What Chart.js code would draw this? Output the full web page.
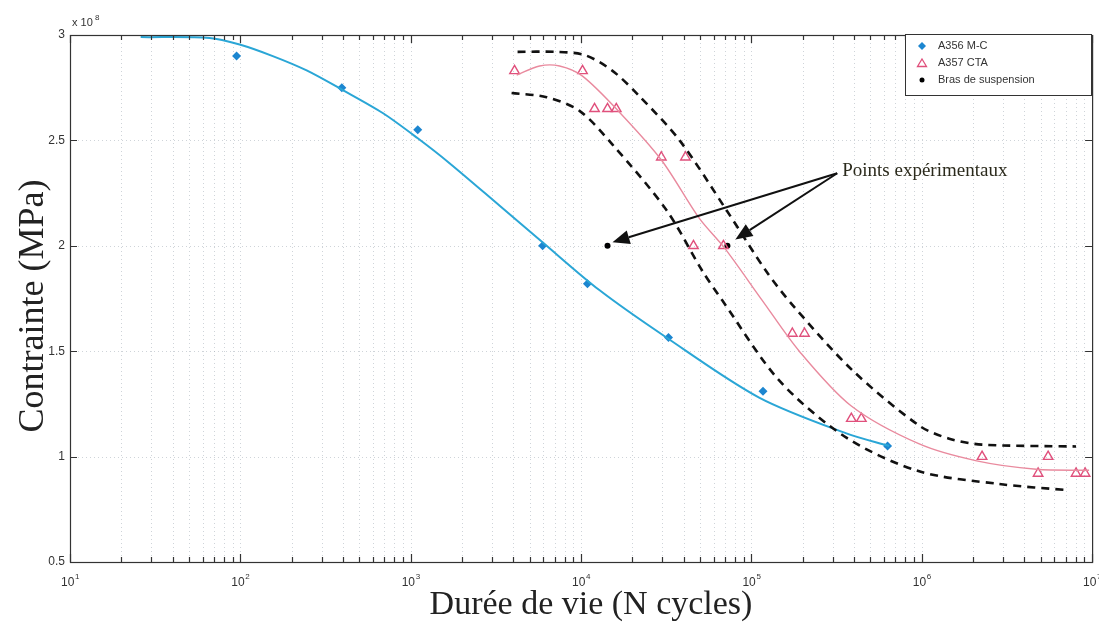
<!DOCTYPE html>
<html>
<head>
<meta charset="utf-8">
<script src="https://cdn.jsdelivr.net/npm/chart.js@4.4.0/dist/chart.umd.min.js"></script>
<style>
body { margin: 0; background: #fff; }
#wrap { width: 1099px; height: 622px; }
</style>
</head>
<body>
<div id="wrap"><canvas id="chart" width="1099" height="622"></canvas></div>
<script>
// data (stress in units of 1e8 MPa, as on the axis) \/
const a356X = [95, 394, 1100, 5950, 10900, 32600, 117000, 630000];
const a356Y = [2.90, 2.75, 2.55, 2.00, 1.82, 1.565, 1.31, 1.05];
const a356FitX = [26, 66, 99, 155, 245, 399, 685, 1100, 1690, 3330, 5940, 12800, 31700, 111000, 361000, 644000];
const a356FitY = [2.99, 2.986, 2.955, 2.9, 2.832, 2.739, 2.63, 2.51, 2.392, 2.19, 2.017, 1.79, 1.565, 1.28, 1.11, 1.05];

const a357X = [4070, 10200, 12000, 14300, 16100, 29600, 41000, 45700, 68500, 174000, 205000, 386000, 442000, 2260000, 4820000, 5520000, 8050000, 9100000];
const a357Y = [2.83, 2.83, 2.65, 2.65, 2.65, 2.42, 2.42, 2.0, 2.0, 1.584, 1.584, 1.18, 1.18, 1.0, 0.92, 1.0, 0.92, 0.92];
const a357FitX = [4190, 5710, 7480, 10200, 16800, 29700, 49500, 69500, 116000, 191000, 386000, 967000, 2100000, 4700000, 9600000];
const a357FitY = [2.81, 2.853, 2.853, 2.805, 2.634, 2.406, 2.13, 1.99, 1.74, 1.50, 1.24, 1.06, 0.98, 0.94, 0.935];

const upperX = [4240, 7000, 10500, 15300, 22000, 37900, 71300, 122000, 174000, 391000, 966000, 1450000, 2260000, 8050000];
const upperY = [2.92, 2.92, 2.905, 2.83, 2.71, 2.50, 2.17, 1.88, 1.72, 1.41, 1.147, 1.085, 1.057, 1.048];
const lowerX = [3910, 6280, 9800, 15300, 31700, 51600, 67600, 146000, 361000, 966000, 2850000, 7330000];
const lowerY = [2.725, 2.705, 2.64, 2.48, 2.17, 1.88, 1.74, 1.36, 1.09, 0.93, 0.87, 0.84];

const brasX = [14300, 72300];
const brasY = [2.0, 2.0];

const xDecades = [1e1, 1e2, 1e3, 1e4, 1e5, 1e6, 1e7];
const xExponents = ['1', '2', '3', '4', '5', '6', '7'];
const yTicks = [0.5, 1, 1.5, 2, 2.5, 3];
const yTickLabels = ['0.5', '1', '1.5', '2', '2.5', '3'];

const legendLabels = ['A356 M-C', 'A357 CTA', 'Bras de suspension'];
const noteText = 'Points expérimentaux';
const noteFrom = [319000, 2.344];
const noteToX = [15300, 80500];
const noteToY = [2.017, 2.03];
// data /\

function pairs(xs, ys) {
    return xs.map((v, i) => ({x: v, y: ys[i]}));
}

// all grid positions: 1..9 x each decade
let xGrid = [];
xDecades.forEach((d, i) => {
    if (i === xDecades.length - 1) { xGrid.push(d); return; }
    for (let k = 1; k < 10; k++) xGrid.push(d * k);
});

const blue = '#1c86d0';
const blueLine = '#2aa6d6';
const pink = '#e0507c';
const pinkLine = '#e98a9e';

// grid, frame, labels, legend and note \/
const extras = {
    id: 'extras',
    beforeDatasetsDraw(chart) {
        const {ctx, chartArea: a, scales: {x, y}} = chart;
        ctx.save();
        ctx.strokeStyle = 'rgba(160,170,180,0.5)';
        ctx.lineWidth = 1;
        ctx.setLineDash([1, 3]);
        xGrid.forEach(v => {
            const px = Math.round(x.getPixelForValue(v)) + 0.5;
            ctx.beginPath(); ctx.moveTo(px, a.top); ctx.lineTo(px, a.bottom); ctx.stroke();
        });
        yTicks.forEach(v => {
            const py = Math.round(y.getPixelForValue(v)) + 0.5;
            ctx.beginPath(); ctx.moveTo(a.left, py); ctx.lineTo(a.right, py); ctx.stroke();
        });
        ctx.restore();
    },
    afterDraw(chart) {
        const {ctx, chartArea: a, scales: {x, y}} = chart;
        ctx.save();
        ctx.setLineDash([]);
        ctx.strokeStyle = '#333';
        ctx.lineWidth = 1.2;
        ctx.strokeRect(a.left + 0.5, a.top + 0.5, a.right - a.left, a.bottom - a.top);

        // tick marks inside the box
        ctx.beginPath();
        xGrid.forEach(v => {
            const px = Math.round(x.getPixelForValue(v)) + 0.5;
            const len = xDecades.includes(v) ? 8 : 5;
            ctx.moveTo(px, a.bottom); ctx.lineTo(px, a.bottom - len);
            ctx.moveTo(px, a.top); ctx.lineTo(px, a.top + len);
        });
        yTicks.forEach(v => {
            const py = Math.round(y.getPixelForValue(v)) + 0.5;
            ctx.moveTo(a.left, py); ctx.lineTo(a.left + 7, py);
            ctx.moveTo(a.right, py); ctx.lineTo(a.right - 7, py);
        });
        ctx.stroke();

        // tick labels
        ctx.fillStyle = '#333';
        ctx.font = '12px "Liberation Sans", Arial, sans-serif';
        ctx.textAlign = 'right';
        ctx.textBaseline = 'middle';
        yTicks.forEach((v, i) => {
            ctx.fillText(yTickLabels[i], a.left - 5, y.getPixelForValue(v));
        });
        ctx.textAlign = 'left';
        ctx.textBaseline = 'alphabetic';
        xDecades.forEach((v, i) => {
            const px = x.getPixelForValue(v);
            ctx.font = '12px "Liberation Sans", Arial, sans-serif';
            ctx.fillText('10', px - 9, a.bottom + 24);
            ctx.font = '8px "Liberation Sans", Arial, sans-serif';
            ctx.fillText(xExponents[i], px + 5, a.bottom + 17);
        });
        ctx.font = '11px "Liberation Sans", Arial, sans-serif';
        ctx.fillText('x 10', a.left + 2, a.top - 9);
        ctx.font = '8px "Liberation Sans", Arial, sans-serif';
        ctx.fillText('8', a.left + 25, a.top - 15);

        // axis titles
        ctx.fillStyle = '#222';
        ctx.font = '34px "Liberation Serif", "DejaVu Serif", serif';
        ctx.textAlign = 'center';
        ctx.fillText('Durée de vie (N cycles)', 591, 614);
        ctx.save();
        ctx.translate(43, 306);
        ctx.rotate(-Math.PI / 2);
        ctx.font = '36px "Liberation Serif", "DejaVu Serif", serif';
        ctx.fillText('Contrainte (MPa)', 0, 0);
        ctx.restore();

        // legend box
        const lx = 905, ly = 34, lw = 186, lh = 61;
        ctx.fillStyle = '#fff';
        ctx.fillRect(lx, ly, lw, lh);
        ctx.strokeStyle = '#333';
        ctx.lineWidth = 1;
        ctx.strokeRect(lx + 0.5, ly + 0.5, lw, lh);
        const rows = [ly + 12, ly + 29, ly + 46];
        ctx.font = '11px "Liberation Sans Narrow", "Liberation Sans", Arial, sans-serif';
        ctx.textAlign = 'left';
        ctx.textBaseline = 'middle';
        legendLabels.forEach((t, i) => {
            const mx = lx + 17, my = rows[i];
            ctx.beginPath();
            if (i === 0) {
                ctx.fillStyle = blue;
                ctx.moveTo(mx, my - 4); ctx.lineTo(mx + 4, my); ctx.lineTo(mx, my + 4); ctx.lineTo(mx - 4, my);
                ctx.closePath(); ctx.fill();
            } else if (i === 1) {
                ctx.strokeStyle = pink; ctx.lineWidth = 1.3;
                ctx.moveTo(mx, my - 4); ctx.lineTo(mx + 4.5, my + 3.5); ctx.lineTo(mx - 4.5, my + 3.5);
                ctx.closePath(); ctx.stroke();
            } else {
                ctx.fillStyle = '#000';
                ctx.arc(mx, my, 2.5, 0, Math.PI * 2); ctx.fill();
            }
            ctx.fillStyle = '#333';
            ctx.fillText(t, lx + 33, my);
        });

        // note with arrows
        const fx = x.getPixelForValue(noteFrom[0]), fy = y.getPixelForValue(noteFrom[1]);
        ctx.fillStyle = '#2b2a1c';
        ctx.textBaseline = 'alphabetic';
        ctx.font = '19px "Liberation Serif", "DejaVu Serif", serif';
        ctx.fillText(noteText, fx + 5, fy + 3);
        ctx.strokeStyle = '#111';
        ctx.fillStyle = '#111';
        ctx.lineWidth = 2;
        noteToX.forEach((v, i) => {
            const tx = x.getPixelForValue(v), ty = y.getPixelForValue(noteToY[i]);
            const ang = Math.atan2(ty - fy, tx - fx);
            const hl = 17, hw = 7;
            const bx = tx - Math.cos(ang) * hl, by = ty - Math.sin(ang) * hl;
            ctx.beginPath(); ctx.moveTo(fx, fy); ctx.lineTo(bx, by); ctx.stroke();
            ctx.beginPath();
            ctx.moveTo(tx, ty);
            ctx.lineTo(bx + Math.sin(ang) * hw, by - Math.cos(ang) * hw);
            ctx.lineTo(bx - Math.sin(ang) * hw, by + Math.cos(ang) * hw);
            ctx.closePath(); ctx.fill();
        });
        ctx.restore();
    }
};
// grid, frame, labels, legend and note /\

const lineBase = {showLine: true, pointRadius: 0, tension: 0.3, fill: false};

new Chart(document.getElementById('chart'), {
    type: 'scatter',
    data: {
        datasets: [
            Object.assign({}, lineBase, {label: 'upper', data: pairs(upperX, upperY), borderColor: '#111', borderWidth: 2.6, borderDash: [8, 6]}),
            Object.assign({}, lineBase, {label: 'lower', data: pairs(lowerX, lowerY), borderColor: '#111', borderWidth: 2.6, borderDash: [8, 6]}),
            Object.assign({}, lineBase, {label: 'fit356', data: pairs(a356FitX, a356FitY), borderColor: blueLine, borderWidth: 2}),
            Object.assign({}, lineBase, {label: 'fit357', data: pairs(a357FitX, a357FitY), borderColor: pinkLine, borderWidth: 1.4}),
            {label: legendLabels[0], data: pairs(a356X, a356Y), pointStyle: 'rectRot', pointRadius: 4.5, backgroundColor: blue, borderColor: blue, borderWidth: 0},
            {label: legendLabels[1], data: pairs(a357X, a357Y), pointStyle: 'triangle', pointRadius: 5.5, backgroundColor: 'rgba(255,255,255,0)', borderColor: pink, borderWidth: 1.4},
            {label: legendLabels[2], data: pairs(brasX, brasY), pointStyle: 'circle', pointRadius: 3, backgroundColor: '#000', borderColor: '#000', borderWidth: 0}
        ]
    },
    options: {
        responsive: false,
        animation: false,
        devicePixelRatio: 1,
        layout: {padding: {top: 35, right: 6, bottom: 0, left: 0}},
        plugins: {legend: {display: false}, tooltip: {enabled: false}},
        scales: {
            x: {
                type: 'logarithmic',
                min: 10, max: 1e7,
                grid: {display: false},
                border: {display: false},
                ticks: {display: false},
                afterBuildTicks: s => { s.ticks = xGrid.map(v => ({value: v})); },
                afterFit: s => { s.height = 60; }
            },
            y: {
                min: 0.5, max: 3,
                grid: {display: false},
                border: {display: false},
                ticks: {display: false},
                afterBuildTicks: s => { s.ticks = yTicks.map(v => ({value: v})); },
                afterFit: s => { s.width = 70; }
            }
        }
    },
    plugins: [extras]
});
</script>
</body>
</html>
